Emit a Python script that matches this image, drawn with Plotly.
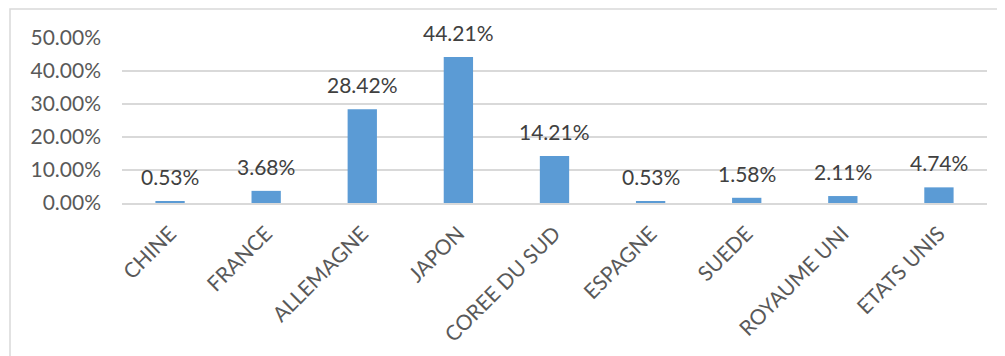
import plotly.graph_objects as go

countries = ["CHINE", "FRANCE", "ALLEMAGNE", "JAPON", "COREE DU SUD",
             "ESPAGNE", "SUEDE", "ROYAUME UNI", "ETATS UNIS"]
shares = [0.0053, 0.0368, 0.2842, 0.4421, 0.1421, 0.0053, 0.0158, 0.0211, 0.0474]
y_ticks = [0.0, 0.1, 0.2, 0.3, 0.4, 0.5]

FONT = "Lato"
TXT = "#595959"
GRID = "#d9d9d9"

fig = go.Figure()
fig.add_trace(go.Bar(x=countries, y=shares, marker=dict(color="#5B9BD5", line=dict(width=0)),
                     hoverinfo="x+y"))

for c, v in zip(countries, shares):
    fig.add_annotation(x=c, y=v, text=f"{v*100:.2f}%", showarrow=False,
                       yanchor="bottom", yshift=10,
                       font=dict(family=FONT, size=21, color="#404040"))

# page body has an 8px margin: figure origin sits at (8, 8) in the screenshot
W, H = 1005, 356
L, R, T, B = 114, 26, 30, 161
pw, ph = W - L - R, H - T - B

def px(x):
    return (x - 8 - L) / pw

def py(y):
    return (H - B - (y - 8)) / ph

fig.add_shape(type="rect", xref="paper", yref="paper",
              x0=px(10), x1=px(1030), y0=py(9), y1=py(380),
              line=dict(color=GRID, width=1.5), fillcolor="rgba(0,0,0,0)", layer="below")

fig.update_layout(
    width=W, height=H,
    margin=dict(l=L, r=R, t=T, b=B, autoexpand=False),
    paper_bgcolor="white", plot_bgcolor="white",
    bargap=0.695, showlegend=False,
    font=dict(family=FONT, size=21, color=TXT),
)
fig.update_xaxes(tickangle=-45, showgrid=False, showline=True, linecolor=GRID, linewidth=2,
                 ticks="", ticklabelstandoff=8, automargin=False,
                 tickfont=dict(family=FONT, size=21, color=TXT))
fig.update_yaxes(range=[0, 0.5], tickvals=y_ticks, tickformat=".2%", showgrid=True,
                 gridcolor=GRID, gridwidth=1.5, zeroline=False, showline=False,
                 ticks="", ticklabelstandoff=20, automargin=False,
                 tickfont=dict(family=FONT, size=21, color=TXT))

fig.write_html("out.html")
